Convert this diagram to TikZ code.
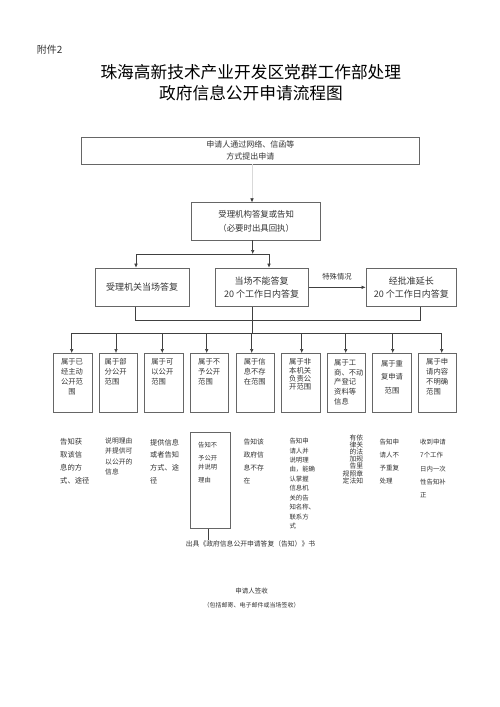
\documentclass[tikz,border=0pt]{standalone}
\usepackage{fontspec}
\setmainfont{Noto Sans CJK SC}
\usetikzlibrary{arrows.meta}
\newcommand\myfs[2]{\fontsize{#1}{#2}\selectfont}
\tikzset{
  box/.style={draw=black!60, line width=0.6pt, inner sep=0pt, align=center, text=black!80},
  conn/.style={draw=black!75, line width=0.6pt},
  arr/.style={conn, -{Latex[length=4pt,width=3.6pt]}},
  txt/.style={inner sep=0pt, text=black!80, align=left, anchor=north west},
  ttl/.style={inner sep=0pt, text=black, font=\myfs{16.7}{20}},
}
\begin{document}
\begin{tikzpicture}[x=1pt,y=-1pt]
\fill[white] (0,0) rectangle (500,707);
\useasboundingbox (0,0) rectangle (500,707);

% titles
\node[inner sep=0pt, anchor=west, text=black!80, font=\myfs{10}{12}] (att) at (36.7,50) {附件2};
\node[ttl] (t1) at (250.8,71.7) {珠海高新技术产业开发区党群工作部处理};
\node[ttl] (t2) at (251,93.3) {政府信息公开申请流程图};

% upper boxes
\node[box, minimum width=337.3pt, minimum height=27pt, font=\myfs{8}{12}] (s1) at (250.3,150.5) {申请人通过网络、信函等\\方式提出申请};
\node[box, minimum width=129pt, minimum height=37.3pt, font=\myfs{8.4}{13.5}] (s2) at (256.2,221.3) {受理机构答复或告知\\（必要时出具回执）};
\node[box, minimum width=94.3pt, minimum height=38.7pt, font=\myfs{9}{12.7}] (s3) at (142.2,287.3) {受理机关当场答复};
\node[box, minimum width=93.3pt, minimum height=38.7pt, font=\myfs{9}{12.7}] (s4) at (261.7,287.3) {当场不能答复\\20 个工作日内答复};
\node[box, minimum width=90.7pt, minimum height=38.7pt, font=\myfs{9}{12.7}] (s5) at (411.3,287.3) {经批准延长\\20 个工作日内答复};
\node[inner sep=0pt, text=black!80, font=\myfs{7.3}{9}] (lab) at (337,276.7) {特殊情况};

% connectors upper
\coordinate (k1) at (252,0);
\draw[draw=black!15, line width=0.6pt, -{Latex[length=4pt,width=3.6pt,color=black!80]}] (s1.south -| k1) -- (s2.north -| k1);
\coordinate (j1) at (252.7,254);
\coordinate (j1l) at (136,254);
\coordinate (j1r) at (269,254);
\draw[arr] (s2.south -| j1) -- (j1);
\draw[conn] (j1l) -- (j1r);
\draw[arr] (j1l) -- (j1l |- s3.north);
\draw[arr] (j1r) -- (j1r |- s4.north);
\draw[arr] (s4.east) -- (s5.west);

\coordinate (m1) at (135,320);
\coordinate (m2) at (420,320);
\draw[conn] (s3.south -| m1) -- (m1) -- (m2) -- (s5.south -| m2);
\coordinate (j2) at (252.7,333.3);
\draw[conn] (s4.south -| j2) -- (j2);
\coordinate (h1) at (71.7,333.3);
\coordinate (h2) at (441.7,333.3);
\draw[conn] (h1) -- (h2);

% nine boxes
\foreach \i in {0,...,8} {
  \node[box, minimum width=38.4pt, minimum height=59.4pt] (b\i) at ({72.7+45.6*\i},383) {};
}
\foreach \i/\xx in {0/71.7,1/116,2/162.3,3/206.7,4/251.7,5/301.7,6/345.7,7/392.7,8/441.7} {
  \coordinate (d\i) at (\xx,333.3);
  \draw[arr] (d\i) -- (d\i |- b\i.north);
}

% box texts
\node[txt, anchor=north, align=center, font=\myfs{7.3}{10}] (bt0) at (72,358.6) {属于已\\经主动\\公开范\\围};
\node[txt, font=\myfs{7.3}{10}] (bt1) at (104.5,358.6) {属于部\\分公开\\范围};
\node[txt, font=\myfs{7.3}{10}] (bt2) at (151.2,358.6) {属于可\\以公开\\范围};
\node[txt, font=\myfs{7.3}{10}] (bt3) at (198,358.6) {属于不\\予公开\\范围};
\node[txt, font=\myfs{7.3}{10}] (bt4) at (243.6,358.6) {属于信\\息不存\\在范围};
\node[txt, font=\myfs{7.3}{8.3}] (bt5) at (289,358.6) {属于非\\本机关\\负责公\\开范围};
\node[txt, font=\myfs{7.3}{9.6}] (bt6) at (334,359.6) {属于工\\商、不动\\产登记\\资料等\\信息};
\node[txt, anchor=north, align=center, font=\myfs{7.3}{13.5}] (bt7) at (392,359.9) {属于重\\复申请\\范围};
\node[txt, font=\myfs{7.3}{9.8}] (bt8) at (426,358.6) {属于申\\请内容\\不明确\\范围};

% texts below
\node[txt, font=\myfs{7.3}{12.8}] (r0) at (60,438.6) {告知获\\取该信\\息的方\\式、途径};
\node[txt, font=\myfs{6.8}{10.5}] (r1) at (105,437.1) {说明理由\\并提供可\\以公开的\\信息};
\node[txt, font=\myfs{7.2}{12.8}] (r2) at (150,438.7) {提供信息\\或者告知\\方式、途\\径};
\node[box, minimum width=40pt, minimum height=95.6pt] (r3box) at (210,480.5) {};
\node[txt, font=\myfs{6.3}{9}] (r3) at (198,442.4) {告知不\\[4pt]予公开\\并说明\\[4pt]理由};
\node[txt, font=\myfs{6.8}{12.8}] (r4) at (243.3,438.8) {告知该\\政府信\\息不存\\在};
\node[txt, font=\myfs{6.4}{9.44}] (r5) at (289.3,438) {告知申\\请人并\\说明理\\由，能确\\认掌握\\信息机\\关的告\\知名称、\\联系方\\式};
\node[txt, anchor=north east, align=right, font=\myfs{6.8}{7.2}] (r6) at (363.3,434.1) {有依\\律关\\的法\\加规\\告里\\规照章\\定法知};
\node[txt, font=\myfs{6.5}{13.1}] (r7) at (379.3,439) {告知申\\请人不\\予重复\\处理};
\node[txt, font=\myfs{6.4}{13.3}] (r8) at (420,439) {收到申请\\7个工作\\日内一次\\性告知补\\正};

% bottom
\coordinate (q1) at (208.3,540);
\draw[conn] (r3box.south -| q1) -- (q1);
\node[inner sep=0pt, text=black!80, font=\myfs{6.8}{8}] (out) at (250.5,544.3) {出具《政府信息公开申请答复（告知）》书};
\node[inner sep=0pt, text=black!80, font=\myfs{6.5}{8}] (sign) at (251.7,591) {申请人签收};
\node[inner sep=0pt, text=black!80, font=\myfs{6}{8}] (sign2) at (251.5,605.7) {（包括邮寄、电子邮件或当场签收）};
\end{tikzpicture}
\end{document}
